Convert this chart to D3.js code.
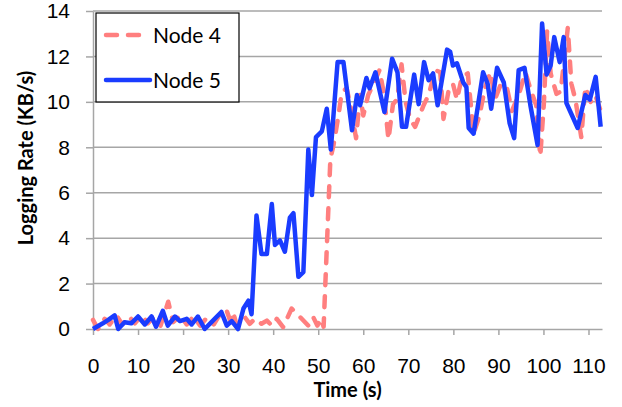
<!DOCTYPE html>
<html>
<head>
<meta charset="utf-8">
<script src="https://cdn.jsdelivr.net/npm/d3@7"></script>
<style>
  body { margin: 0; background: #fff; }
  svg { font-family: Lato, "Open Sans", sans-serif; }
</style>
</head>
<body>
<div id="chart"></div>
<script>
// Node 4 (pink dashed) - time (s) and logging rate (KB/s)
var node4Time = [0,1.1,2.6,3.7,5.2,6.5,8,9.3,10.8,12.2,13.6,15,16.7,17.8,19.4,20.8,22.3,23.8,25.3,26.8,
  28.2,29.7,30.4,31.1,31.9,33.7,34.8,36,37.4,38.6,39.7,40.8,42.2,44.1,46,47.8,48.9,49.8,50.6,51.2,
  52.7,53.4,54.5,55.2,56.3,57.2,58.4,59.3,60,61.1,62.3,63.6,64.5,65.6,66.6,67.5,68.5,69.4,70.4,71.5,
  73.4,74.5,76,77.1,77.8,78.9,79.9,80.8,81.9,83.2,84.5,85.8,87,88.2,89.3,90.6,91.9,93,94.5,96,
  97.2,98.4,99.3,100.1,100.8,101.6,102.9,103.8,104.6,105.4,106.2,107.1,108.4,109.3,110.5,111.5,112.9];
var node4Rate = [0.4,0,0.45,0.2,0.6,0.2,0.55,0.25,0.6,0.25,0.55,0.15,1.2,0.3,0.6,0.2,0.55,0.15,0.5,0.2,
  0.65,0.8,0.4,0.75,0.15,0.52,0.23,0.45,0.23,0.37,0.15,0.45,0.08,0.9,0.52,0.15,0.52,0.15,0.45,0.1,
  7.5,8.1,9.4,10.4,10.6,9.8,8.4,10.3,9.4,10.3,10.8,11.4,10.45,8.35,9.9,10.1,11.65,10.0,9.25,8.9,
  9.85,10.3,11.4,11.3,9.25,10.45,10.8,10.1,11.1,11.25,8.6,9.4,10.6,11.3,10.15,10.8,10.6,9.6,10.3,11.3,
  10.5,9.85,7.6,9.95,13.1,11.25,10.35,10.45,11.8,13.25,10.8,10.1,8.45,10.65,10.0,10.3,9.5];

// Node 5 (blue solid)
var node5Time = [0,2.2,3.4,4.8,5.6,7,8.5,10,11.5,13,14,15.5,16.6,18.2,19.3,20.8,21.9,23.3,24.8,26.3,
  28.5,29.7,30.8,32.2,33.4,34.5,35.2,36.3,37.4,38.6,39.7,40.4,41.5,42.6,43.7,44.5,45.6,46.7,47.8,48.6,
  49.5,50.8,51.9,52.8,54.3,55.6,57.5,58.6,59.3,60.7,61.4,62.7,64.7,66.4,67.6,68.6,69.5,71.3,72.3,73.5,
  74.5,75.5,76.5,78.6,79.3,79.9,80.8,82.2,82.9,83.4,84.5,86.6,87.6,88.4,89.7,91.2,92.5,93.5,94.5,95.8,
  97.1,98.7,99.7,100.7,101.6,102.4,103.6,104.5,105.1,107.6,109.3,110.3,111.6,112.7];
var node5Rate = [0,0.25,0.4,0.6,0,0.3,0.25,0.55,0.2,0.55,0.1,0.8,0.15,0.55,0.35,0.45,0.2,0.55,0,0.3,
  0.75,0.15,0.35,0,0.9,1.25,0.65,5.0,3.3,3.3,5.5,3.7,3.9,3.4,4.9,5.1,2.3,2.5,7.9,5.9,
  8.45,8.7,9.7,7.9,11.75,11.75,8.75,10.3,9.85,11.05,10.6,11.3,9.55,11.9,11.3,8.9,8.9,11.2,9.9,11.75,
  10.95,11.25,9.85,12.3,12.2,11.6,11.7,10.85,10.65,8.85,8.6,11.3,10.8,9.7,11.5,10.85,9.05,8.4,11.4,11.5,
  9.85,8.1,13.45,11.2,11.6,12.85,11.75,12.85,9.95,8.85,10.3,10.1,11.1,8.9];

var xTicks = [0,10,20,30,40,50,60,70,80,90,100,110];
var yTicks = [0,2,4,6,8,10,12,14];
var seriesNames = ["Node 4", "Node 5"];

var width = 622, height = 407;
var margin = {top: 11, right: 20, bottom: 78, left: 93};

var svg = d3.select('#chart')
  .append('svg')
  .attr('width', width)
  .attr('height', height);

var x = d3.scaleLinear().domain([0, 113]).range([margin.left, width - margin.right]);
var y = d3.scaleLinear().domain([0, 14]).range([height - margin.bottom, margin.top]);

var gridColor = '#a6a6a6';

// horizontal gridlines
svg.append('g')
  .selectAll('line')
  .data(yTicks.slice(1))
  .enter().append('line')
  .attr('x1', x(0)).attr('x2', x(113))
  .attr('y1', function(d){ return y(d); })
  .attr('y2', function(d){ return y(d); })
  .attr('stroke', gridColor)
  .attr('stroke-width', 1.5);

// x axis
var xAxis = svg.append('g')
  .attr('transform', 'translate(0,' + y(0) + ')')
  .call(d3.axisBottom(x).tickValues(xTicks).tickSize(6).tickPadding(23).tickSizeOuter(0));

// y axis
var yAxis = svg.append('g')
  .attr('transform', 'translate(' + x(0) + ',0)')
  .call(d3.axisLeft(y).tickValues(yTicks).tickSize(7).tickPadding(16).tickSizeOuter(0));

[xAxis, yAxis].forEach(function(a){
  a.select('.domain').attr('stroke', gridColor).attr('stroke-width', 1.5);
  a.selectAll('.tick line').attr('stroke', gridColor).attr('stroke-width', 1.5);
  a.selectAll('.tick text').attr('fill', '#000').style('font-size', '21px');
});

// lines
function makeLine(times, rates){
  return d3.line()
    .x(function(d, i){ return x(times[i]); })
    .y(function(d){ return y(d); })(rates);
}

svg.append('path')
  .attr('d', makeLine(node4Time, node4Rate))
  .attr('fill', 'none')
  .attr('stroke', '#ff7f7f')
  .attr('stroke-width', 4.5)
  .attr('stroke-dasharray', '11,11')
  .attr('stroke-linecap', 'round')
  .attr('stroke-linejoin', 'round');

svg.append('path')
  .attr('d', makeLine(node5Time, node5Rate))
  .attr('fill', 'none')
  .attr('stroke', '#1a3cff')
  .attr('stroke-width', 4.5)
  .attr('stroke-linejoin', 'round');

// axis titles
svg.append('text')
  .attr('x', (x(0) + x(113)) / 2)
  .attr('y', 397)
  .attr('text-anchor', 'middle')
  .style('font-size', '20px')
  .style('font-weight', 'bold')
  .text('Time (s)');

svg.append('text')
  .attr('transform', 'translate(33,' + 158 + ') rotate(-90)')
  .attr('text-anchor', 'middle')
  .style('font-size', '20px')
  .style('font-weight', 'bold')
  .text('Logging Rate (KB/s)');

// legend
var legend = svg.append('g');
legend.append('rect')
  .attr('x', 96).attr('y', 13)
  .attr('width', 143).attr('height', 89)
  .attr('fill', '#fff')
  .attr('stroke', '#000')
  .attr('stroke-width', 1.2);

var legendStyles = [
  {color: '#ff7f7f', dash: '11,11', cap: 'round'},
  {color: '#1a3cff', dash: null, cap: 'round'}
];
seriesNames.forEach(function(name, i){
  var ly = 35 + i * 45;
  legend.append('line')
    .attr('x1', 106).attr('x2', 150)
    .attr('y1', ly).attr('y2', ly)
    .attr('stroke', legendStyles[i].color)
    .attr('stroke-width', 4.5)
    .attr('stroke-dasharray', legendStyles[i].dash)
    .attr('stroke-linecap', legendStyles[i].cap);
  legend.append('text')
    .attr('x', 153).attr('y', ly + 8)
    .style('font-size', '21px')
    .text(name);
});
</script>
</body>
</html>
